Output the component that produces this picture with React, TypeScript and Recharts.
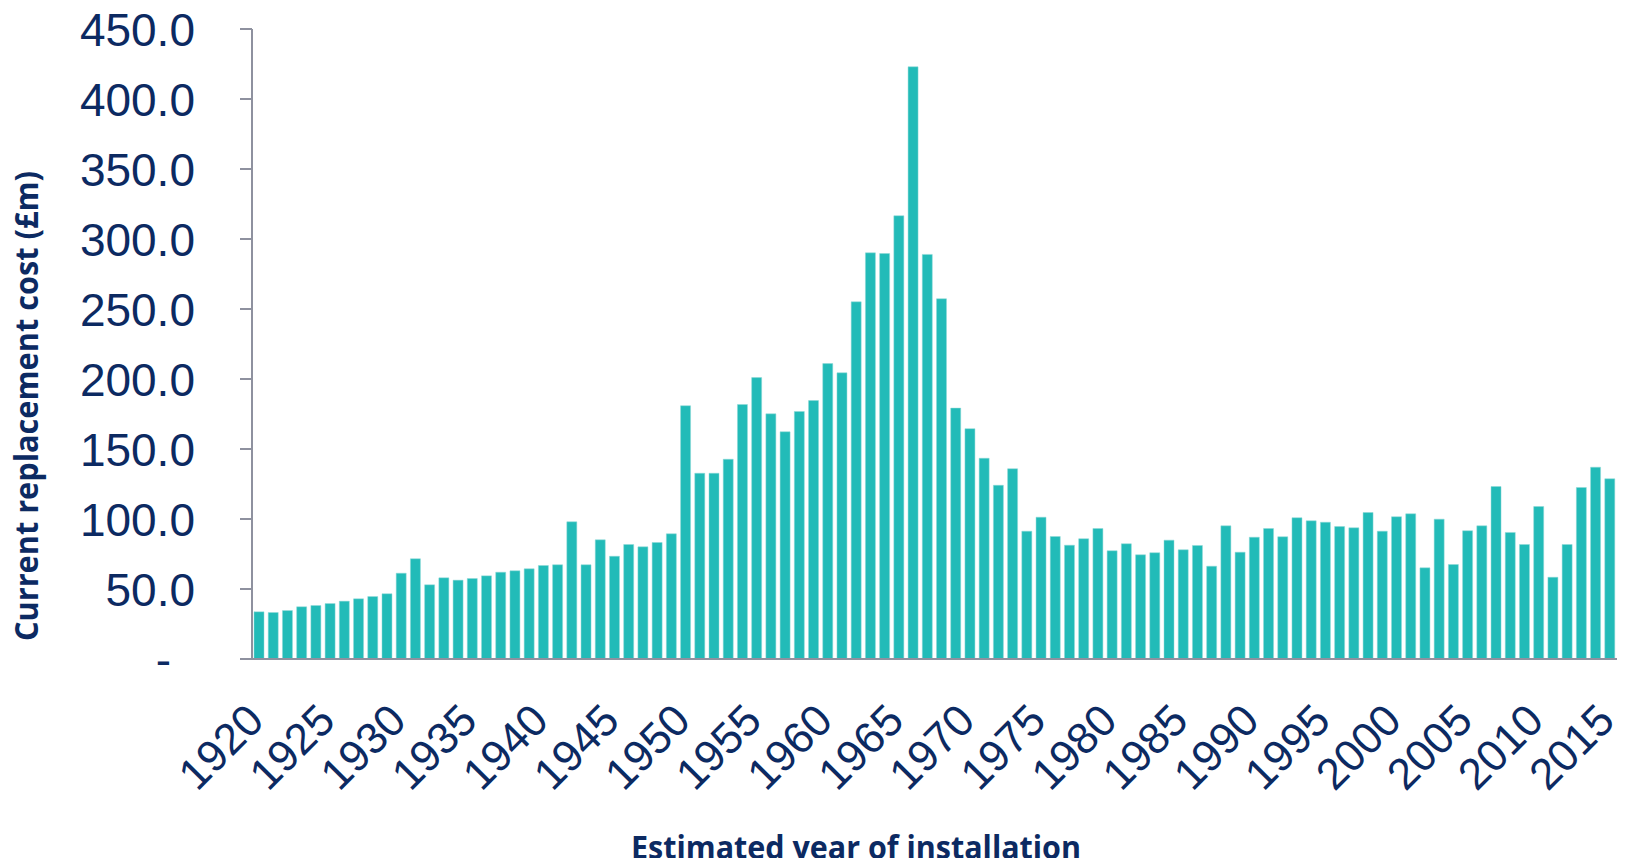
import React from "react";
import { BarChart, Bar, XAxis, YAxis, Label } from "recharts";

// estimated year of installation, 1920..2015
const years: number[] = [
  1920, 1921, 1922, 1923, 1924, 1925, 1926, 1927, 1928, 1929,
  1930, 1931, 1932, 1933, 1934, 1935, 1936, 1937, 1938, 1939,
  1940, 1941, 1942, 1943, 1944, 1945, 1946, 1947, 1948, 1949,
  1950, 1951, 1952, 1953, 1954, 1955, 1956, 1957, 1958, 1959,
  1960, 1961, 1962, 1963, 1964, 1965, 1966, 1967, 1968, 1969,
  1970, 1971, 1972, 1973, 1974, 1975, 1976, 1977, 1978, 1979,
  1980, 1981, 1982, 1983, 1984, 1985, 1986, 1987, 1988, 1989,
  1990, 1991, 1992, 1993, 1994, 1995, 1996, 1997, 1998, 1999,
  2000, 2001, 2002, 2003, 2004, 2005, 2006, 2007, 2008, 2009,
  2010, 2011, 2012, 2013, 2014, 2015,
];

// current replacement cost, £m
const cost: number[] = [
  33.7, 33.2, 34.6, 37.3, 38.2, 39.6, 41.3, 43.0, 44.6, 46.6,
  61.3, 71.6, 53.0, 58.0, 56.3, 57.5, 59.4, 62.0, 63.0, 64.4,
  66.8, 67.3, 98.0, 67.3, 85.1, 73.4, 81.8, 80.1, 83.2, 89.4,
  180.9, 132.7, 132.7, 142.7, 181.8, 201.0, 175.1, 162.3, 176.8, 184.6,
  211.0, 204.4, 255.1, 290.1, 289.6, 316.6, 423.0, 289.0, 257.3, 179.2,
  164.5, 143.4, 124.1, 135.9, 91.3, 101.3, 87.5, 81.3, 85.9, 93.2,
  77.3, 82.3, 74.4, 75.9, 84.9, 78.0, 81.1, 66.3, 95.1, 76.3,
  87.0, 93.2, 87.3, 100.9, 98.7, 97.7, 94.6, 93.7, 104.6, 91.3,
  101.6, 103.7, 65.1, 99.9, 67.5, 91.6, 95.1, 123.2, 90.4, 81.8,
  108.9, 58.4, 81.8, 122.5, 137.0, 128.7,
];

const yTicks: number[] = [0, 50, 100, 150, 200, 250, 300, 350, 400, 450];

const data = years.map((y, i) => ({ year: y, cost: cost[i] }));

const NAVY = "#0c2a62";
const AXIS = "#8e919f";
const TEAL = "#22bbb8";

function YTick(props: any) {
  const { x, y, payload } = props;
  const v = payload.value as number;
  return (
    <text
      x={v === 0 ? x - 24 : x}
      y={y}
      dy="0.36em"
      textAnchor="end"
      fill={NAVY}
      fontSize={46}
      fontFamily="'Liberation Sans', Arial, sans-serif"
    >
      {v === 0 ? "-" : v.toFixed(1)}
    </text>
  );
}

function XTick(props: any) {
  const { x, y, payload } = props;
  const yr = Number(payload.value);
  if (yr % 5 !== 0) return <g />;
  const tx = x + 7;
  const ty = y + 56;
  return (
    <text
      x={tx}
      y={ty}
      transform={`rotate(-45, ${tx}, ${ty})`}
      textAnchor="end"
      fill={NAVY}
      fontSize={44}
      fontFamily="'Liberation Sans', Arial, sans-serif"
    >
      {yr}
    </text>
  );
}

export default function App() {
  return (
    <div style={{ width: 1611, height: 850 }}>
      <BarChart
        width={1611}
        height={858}
        data={data}
        margin={{ top: 21, right: 2, left: 0, bottom: 0 }}
      >
        <XAxis
          dataKey="year"
          interval={0}
          height={207}
          tickLine={false}
          axisLine={{ stroke: AXIS, strokeWidth: 2 }}
          tick={<XTick />}
        >
          <Label
            content={() => (
              <text
                x={848}
                y={851}
                textAnchor="middle"
                fill={NAVY}
                fontSize={32}
                fontWeight={700}
                fontFamily="'Open Sans', sans-serif"
                textLength={450}
                lengthAdjust="spacingAndGlyphs"
              >
                Estimated year of installation
              </text>
            )}
          />
        </XAxis>
        <YAxis
          width={244}
          domain={[0, 450]}
          ticks={yTicks}
          interval={0}
          tickSize={12}
          tickMargin={45}
          tickLine={{ stroke: AXIS, strokeWidth: 2 }}
          axisLine={{ stroke: AXIS, strokeWidth: 2 }}
          tick={<YTick />}
        >
          <Label
            content={() => (
              <text
                x={30}
                y={398}
                transform="rotate(-90, 30, 398)"
                textAnchor="middle"
                fill={NAVY}
                fontSize={33}
                fontWeight={700}
                fontFamily="'Open Sans', sans-serif"
                textLength={470}
                lengthAdjust="spacingAndGlyphs"
              >
                Current replacement cost (£m)
              </text>
            )}
          />
        </YAxis>
        <Bar
          dataKey="cost"
          fill={TEAL}
          stroke="#8fd9d6"
          strokeWidth={0.5}
          barSize={10}
          isAnimationActive={false}
        />
      </BarChart>
    </div>
  );
}
